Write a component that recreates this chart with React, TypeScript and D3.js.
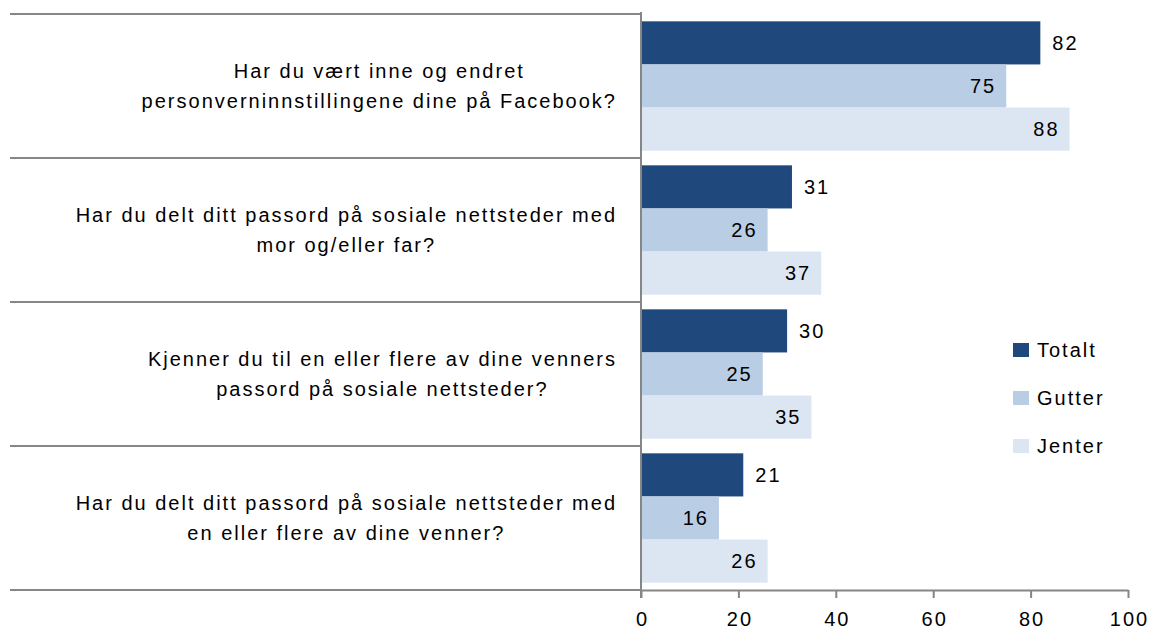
import { useEffect, useRef } from 'react';
import * as d3 from 'd3';

const questions = [
    ['Har du vært inne og endret', 'personverninnstillingene dine på Facebook?'],
    ['Har du delt ditt passord på sosiale nettsteder med', 'mor og/eller far?'],
    ['Kjenner du til en eller flere av dine venners', 'passord på sosiale nettsteder?'],
    ['Har du delt ditt passord på sosiale nettsteder med', 'en eller flere av dine venner?'],
];
const seriesNames = ['Totalt', 'Gutter', 'Jenter'];
const totalt = [82, 31, 30, 21];
const gutter = [75, 26, 25, 16];
const jenter = [88, 37, 35, 26];
const xTicks = [0, 20, 40, 60, 80, 100];

const colors = ['#1f497d', '#b9cde5', '#dce6f2'];
const FONT = '"Liberation Sans", Arial, sans-serif';
const SPACING = 2;

const App = () => {
    const svgRef = useRef<SVGSVGElement>(null);

    useEffect(() => {
        if (!svgRef.current) return;
        const svg = d3.select(svgRef.current);
        svg.selectAll('*').remove();

        const values = [totalt, gutter, jenter];
        const left = 641;
        const top = 14;
        const bottom = 590;
        const labelRight = 617;

        const x = d3.scaleLinear().domain([0, 100]).range([left, 1128]);
        const y = d3.scaleBand<number>().domain(d3.range(questions.length)).range([top, bottom]);
        const ySub = d3.scaleBand<number>().domain(d3.range(seriesNames.length))
            .range([0, y.bandwidth()]).paddingOuter(0.17);

        // category separator lines
        svg.append('g')
            .selectAll('line')
            .data(d3.range(questions.length + 1))
            .join('line')
            .attr('x1', 10)
            .attr('x2', left)
            .attr('y1', i => i < questions.length ? y(i)! : bottom)
            .attr('y2', i => i < questions.length ? y(i)! : bottom)
            .attr('stroke', '#868686')
            .attr('stroke-width', 2);

        // bars
        seriesNames.forEach((name, s) => {
            const g = svg.append('g');
            g.selectAll('rect')
                .data(values[s])
                .join('rect')
                .attr('x', x(0))
                .attr('y', (_, i) => y(i)! + ySub(s)!)
                .attr('width', d => x(d) - x(0))
                .attr('height', ySub.bandwidth())
                .attr('fill', colors[s]);

            g.selectAll('text')
                .data(values[s])
                .join('text')
                .attr('x', d => s === 0 ? x(d) + 12 : x(d) - 10)
                .attr('y', (_, i) => y(i)! + ySub(s)! + ySub.bandwidth() / 2)
                .attr('dy', '0.35em')
                .attr('text-anchor', s === 0 ? 'start' : 'end')
                .attr('font-family', FONT)
                .attr('font-size', 20)
                .attr('letter-spacing', SPACING)
                .attr('fill', '#000')
                .text(d => d);
        });

        // x axis
        const axis = svg.append('g')
            .attr('transform', `translate(0,${bottom})`)
            .call(d3.axisBottom(x).tickValues(xTicks).tickSize(8).tickPadding(14).tickSizeOuter(0));
        axis.select('.domain').attr('stroke', '#868686').attr('stroke-width', 2);
        axis.selectAll('.tick line').attr('stroke', '#868686').attr('stroke-width', 2);
        axis.selectAll('.tick text')
            .attr('font-family', FONT)
            .attr('font-size', 20)
            .attr('letter-spacing', SPACING)
            .attr('dx', SPACING / 2)
            .attr('fill', '#000');

        // vertical axis line
        svg.append('line')
            .attr('x1', left).attr('x2', left)
            .attr('y1', top - 2).attr('y2', bottom + 8)
            .attr('stroke', '#868686')
            .attr('stroke-width', 2);

        // category labels: lines centered on each other, block right edge at labelRight
        questions.forEach((lines, i) => {
            const cy = y(i)! + y.bandwidth() / 2;
            const t = svg.append('text')
                .attr('font-family', FONT)
                .attr('font-size', 20)
                .attr('letter-spacing', SPACING)
                .attr('fill', '#000')
                .attr('text-anchor', 'middle');
            const spans = lines.map((line, k) => t.append('tspan')
                .attr('y', cy + (k - (lines.length - 1) / 2) * 30)
                .attr('dy', '0.35em')
                .text(line));
            const widths = spans.map(sp => (sp.node() as SVGTSpanElement).getComputedTextLength());
            const cx = labelRight - d3.max(widths)! / 2;
            spans.forEach(sp => sp.attr('x', cx));
        });

        // legend
        const legend = svg.append('g');
        seriesNames.forEach((name, s) => {
            const ly = 350 + s * 48;
            legend.append('rect')
                .attr('x', 1013).attr('y', ly - 7)
                .attr('width', 16).attr('height', 14)
                .attr('fill', colors[s]);
            legend.append('text')
                .attr('x', 1037).attr('y', ly)
                .attr('dy', '0.35em')
                .attr('font-family', FONT)
                .attr('font-size', 20)
                .attr('letter-spacing', SPACING)
                .attr('fill', '#000')
                .text(name);
        });
    }, []);

    return (
        <svg ref={svgRef} width={1152} height={635}
            style={{ position: 'absolute', left: 0, top: 0, background: '#fff' }} />
    );
};

export default App;
